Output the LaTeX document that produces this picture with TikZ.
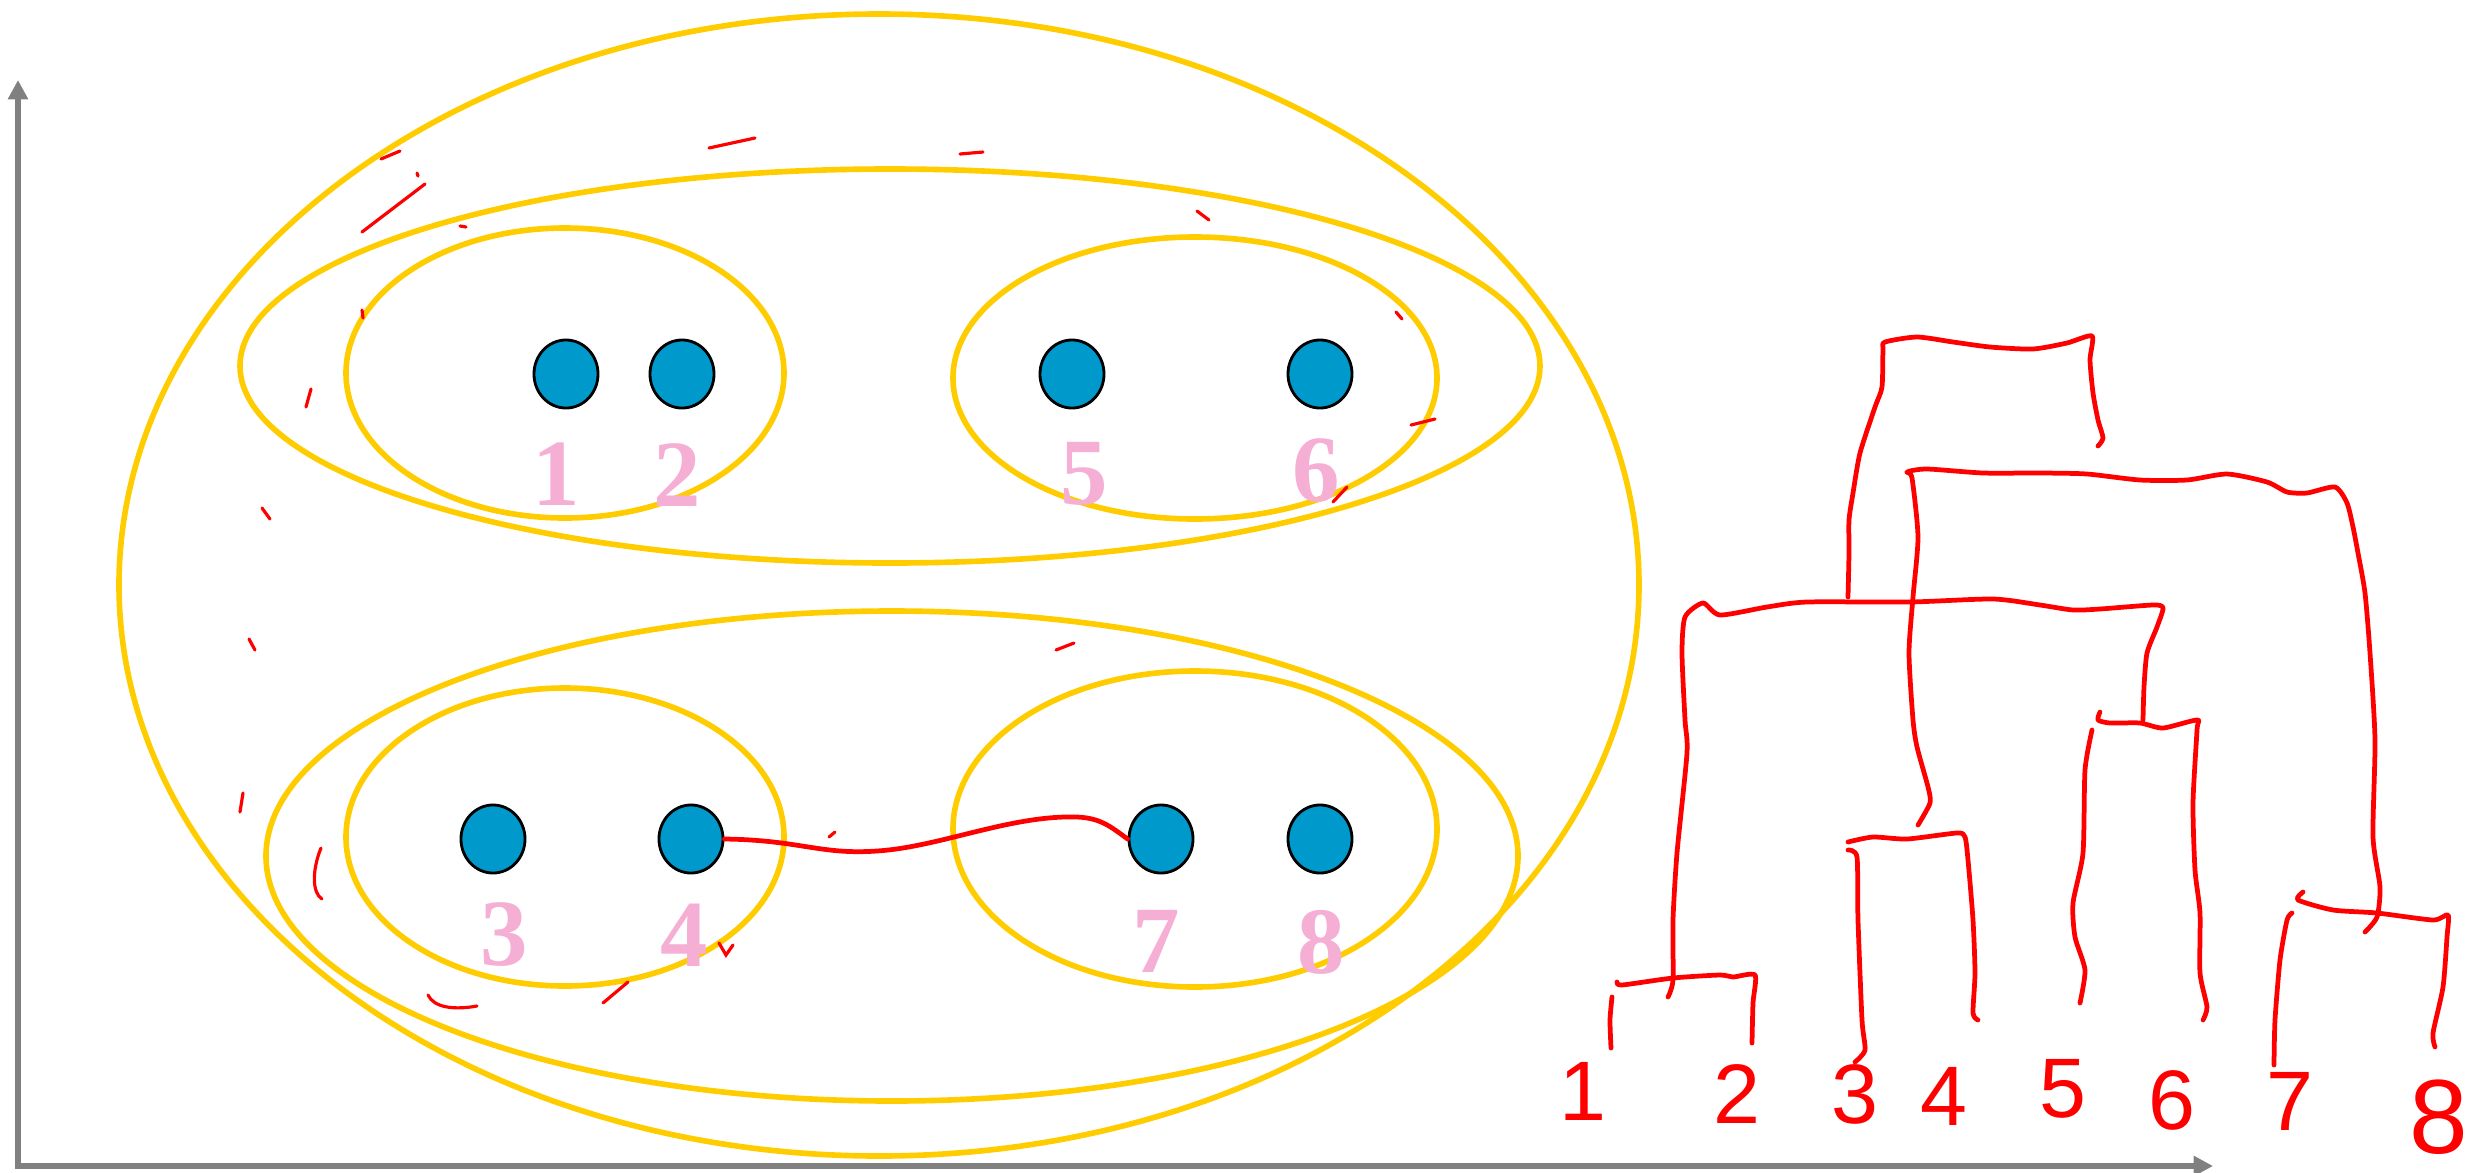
\documentclass[tikz,border=0pt]{standalone}
\usepackage{fontspec}
\setmainfont{Liberation Serif}
\setsansfont{Liberation Sans}
\usetikzlibrary{shapes.geometric,arrows.meta}

\begin{document}
\begin{tikzpicture}[x=0.01cm, y=-0.01cm]
    % Colori
    \definecolor{clusteryellow}{RGB}{255,204,0}
    \definecolor{pointblue}{RGB}{0,153,204}
    \definecolor{labelpink}{RGB}{245,175,212}
    \definecolor{axisgray}{RGB}{128,128,128}
    \tikzset{
        cluster/.style={draw=clusteryellow, line width=1.6pt},
        point/.style={ellipse, draw=black, line width=0.8pt, fill=pointblue,
            minimum width=0.64cm, minimum height=0.68cm, inner sep=0pt},
        ptlabel/.style={text=labelpink, inner sep=0pt,
            font=\fontsize{27}{27}\selectfont\bfseries},
        hand/.style={draw=red, line width=1.35pt, line cap=round, line join=round},
        speck/.style={draw=red, line width=0.9pt, line cap=round},
        digit/.style={text=red, inner sep=0pt, font=\sffamily\fontsize{24}{24}\selectfont},
        axis/.style={draw=axisgray, line width=1.45pt,
            {Triangle[length=5.5pt,width=5.5pt]}-{Triangle[length=5.5pt,width=5.5pt]}}
    }
    \useasboundingbox (0,0) rectangle (2487,1172);

    % Assi
    \coordinate (ytip) at (18,80);
    \coordinate (xtip) at (2213,1166);
    \draw[axis] (ytip) |- (xtip);

    % Cluster (ellissi)
    \draw[cluster] (879,585) ellipse [x radius=760, y radius=571];
    \draw[cluster] (890,366) ellipse [x radius=650, y radius=197];
    \draw[cluster] (892,856) ellipse [x radius=626, y radius=245];
    \draw[cluster] (565,373) ellipse [x radius=219, y radius=145];
    \draw[cluster] (1195,378) ellipse [x radius=242, y radius=141];
    \draw[cluster] (565,837) ellipse [x radius=219, y radius=149];
    \draw[cluster] (1195,829) ellipse [x radius=242, y radius=158];

    % Punti
    \node[point] (p1) at (566,374) {};
    \node[point] (p2) at (682,374) {};
    \node[point] (p5) at (1072,374) {};
    \node[point] (p6) at (1320,374) {};
    \node[point] (p3) at (493,839) {};
    \node[point] (p4) at (691,839) {};
    \node[point] (p7) at (1161,839) {};
    \node[point] (p8) at (1320,839) {};

    % Etichette dei punti
    \node[ptlabel] (l1) at (556,474) {1};
    \node[ptlabel] (l2) at (677,475) {2};
    \node[ptlabel] (l5) at (1084,474) {5};
    \node[ptlabel] (l6) at (1316,471) {6};
    \node[ptlabel] (l3) at (504,935) {3};
    \node[ptlabel] (l4) at (684,935) {4};
    \node[ptlabel] (l7) at (1156,941) {7};
    \node[ptlabel] (l8) at (1321,942) {8};

    % Distanza tra 4 e 7
    \draw[hand] (p4.east) .. controls (800,840) and (820,855) .. (877,851)
        .. controls (940,847) and (1010,815) .. (1077,817)
        .. controls (1100,818) and (1110,826) .. (p7.west);

    % Segni sparsi
    \foreach \xa/\ya/\xb/\yb in {381/159/400/151, 362/232/425/184, 709/148/755/138,
        960/154/983/152, 1197/211/1209/220, 1396/312/1402/319, 306/407/311/389,
        362/310/363/318, 262/508/270/519, 249/639/255/650, 243/793/240/812,
        1056/650/1074/643, 1411/425/1435/419, 1333/502/1347/487, 829/837/835/832,
        603/1003/628/982, 460/226/466/227, 417/173/418/176}
        \draw[speck] (\xa,\ya) -- (\xb,\yb);
    \draw[speck] (321,848) .. controls (312,870) and (312,893) .. (322,899);
    \draw[speck] (428,995) .. controls (434,1008) and (455,1010) .. (477,1006);
    \draw[speck] (719,943) -- (726,955) -- (733,945);

    % Dendrogramma
    \draw[hand] plot[smooth, tension=0.4] coordinates {(1848,597) (1849,553) (1849,520)
        (1853,493) (1860,453) (1875,407) (1882,387) (1883,350) (1885,342) (1917,337)
        (1953,342) (1990,347) (2033,349) (2067,343) (2092,336) (2090,360) (2093,393)
        (2098,420) (2103,438) (2098,446)};
    \draw[hand] plot[smooth, tension=0.4] coordinates {(1918,825) (1930,803) (1928,787)
        (1917,747) (1913,720) (1909,653) (1913,597) (1918,537) (1912,478) (1907,472)
        (1927,469) (1983,473) (2040,473) (2087,474) (2140,480) (2187,480) (2227,474)
        (2267,482) (2287,492) (2307,493) (2335,487) (2347,503) (2353,527) (2358,553)
        (2365,593) (2370,653) (2375,740) (2373,837) (2380,887) (2377,917) (2365,932)};
    \draw[hand] plot[smooth, tension=0.4] coordinates {(1668,997) (1673,980) (1673,920)
        (1677,853) (1687,753) (1685,720) (1682,653) (1685,617) (1703,603) (1720,615)
        (1767,607) (1807,602) (1910,602) (1993,599) (2040,605) (2073,610) (2100,609)
        (2153,605) (2163,608) (2157,627) (2147,653) (2144,687) (2143,720)};
    \draw[hand] plot[smooth, tension=0.4] coordinates {(1617,982) (1622,985) (1673,978)
        (1720,975) (1733,977) (1755,975) (1753,1003) (1752,1043)};
    \draw[hand] plot[smooth, tension=0.4] coordinates {(1612,997) (1610,1020) (1611,1048)};
    \draw[hand] plot[smooth, tension=0.4] coordinates {(1848,842) (1873,837) (1907,839)
        (1957,833) (1965,837) (1968,860) (1973,920) (1975,973) (1973,1013) (1978,1020)};
    \draw[hand] plot[smooth, tension=0.4] coordinates {(1848,850) (1857,857) (1858,920)
        (1862,1020) (1865,1050) (1855,1062)};
    \draw[hand] plot[smooth, tension=0.4] coordinates {(2100,712) (2098,720) (2110,723)
        (2140,723) (2163,728) (2197,720) (2197,730) (2193,803) (2195,870) (2200,913)
        (2200,973) (2207,1007) (2203,1020)};
    \draw[hand] plot[smooth, tension=0.4] coordinates {(2092,730) (2085,770) (2083,853)
        (2073,903) (2075,937) (2085,970) (2080,1003)};
    \draw[hand] plot[smooth, tension=0.4] coordinates {(2303,892) (2298,900) (2333,910)
        (2377,913) (2433,920) (2448,915) (2447,937) (2443,987) (2433,1033) (2435,1047)};
    \draw[hand] plot[smooth, tension=0.4] coordinates {(2292,913) (2287,920) (2280,960)
        (2275,1020) (2274,1065)};

    % Foglie
    \node[digit] (d1) at (1583,1091) {1};
    \node[digit] (d2) at (1737,1094) {2};
    \node[digit] (d3) at (1855,1094) {3};
    \node[digit] (d4) at (1944,1096) {4};
    \node[digit] (d5) at (2063,1089) {5};
    \node[digit] (d6) at (2172,1100) {6};
    \node[digit] (d7) at (2290,1101) {7};
    \node[digit, font=\sffamily\fontsize{30}{30}\selectfont] (d8) at (2439,1117) {8};
\end{tikzpicture}
\end{document}
